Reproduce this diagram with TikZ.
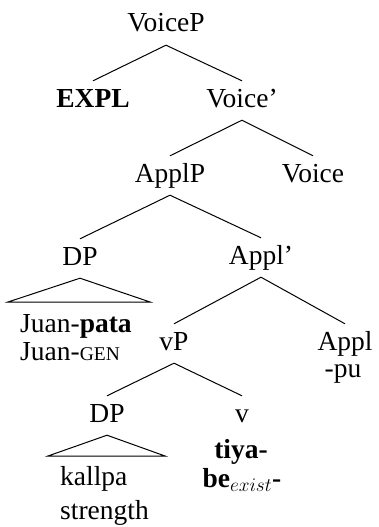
\RequirePackage{fix-cm}
\documentclass[tikz,border=0pt]{standalone}
\usepackage{fontspec}
\setmainfont{Liberation Serif}
\begin{document}
\begin{tikzpicture}[x=1pt,y=-1pt,
  lab/.style={font=\fontsize{27.5}{32}\selectfont, inner sep=0pt, anchor=base},
  tn/.style={lab, text height=19pt, text depth=6pt, inner ysep=7pt},
  leafl/.style={lab, anchor=base west},
  br/.style={line width=1pt, line join=miter}]
\useasboundingbox (0,0) rectangle (378,527);
% tree nodes
\node[tn] (voicep) at (166,32) {VoiceP};
\node[tn] (expl) at (93,107) {\textbf{EXPL}};
\node[tn] (voicebar) at (242,107) {Voice'};
\node[tn] (applp) at (170,182) {ApplP};
\node[tn] (voice) at (313,182) {Voice};
\node[tn] (dpa) at (80,265) {DP};
\node[tn] (applbar) at (261,264) {Appl'};
\node[tn] (vp) at (174,350) {vP};
\node[tn] (appl) at (345,350) {Appl};
\node[lab] (pu) at (343,377) {-pu};
\node[tn] (dpb) at (107,422) {DP};
\node[tn] (v) at (242,422) {v};
% leaves
\node[leafl] (juan) at (20,332) {Juan-\textbf{pata}};
\node[leafl] (juangl) at (20,360) {Juan-{\fontsize{19.5}{22}\selectfont GEN}};
\node[leafl] (kallpa) at (60,485) {kallpa};
\node[leafl] (strength) at (60,519) {strength};
\node[lab] (tiya) at (241,458) {\textbf{tiya-}};
\node[lab] (be) at (242,487) {\textbf{be}$_{exist}$\textbf{-}};
% triangle corners
\coordinate (tal) at (8,302);
\coordinate (tar) at (150,302);
\coordinate (tbl) at (48,456);
\coordinate (tbr) at (165,456);
% branches
\draw[br] (expl.north) -- (voicep.south) -- (voicebar.north);
\draw[br] (applp.north) -- (voicebar.south) -- (voice.north);
\draw[br] (dpa.north) -- (applp.south) -- (applbar.north);
\draw[br] (vp.north) -- (applbar.south) -- (appl.north);
\draw[br] (dpb.north) -- (vp.south) -- (v.north);
\draw[br] (dpa.south) -- (tal) -- (tar) -- cycle;
\draw[br] (dpb.south) -- (tbl) -- (tbr) -- cycle;
\end{tikzpicture}
\end{document}
